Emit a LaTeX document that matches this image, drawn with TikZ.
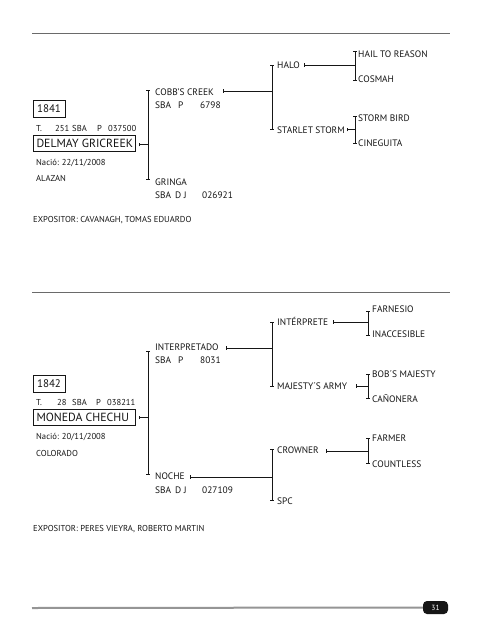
\documentclass[tikz,border=0pt]{standalone}
\usepackage{fontspec}
\setmainfont{PT Sans}
\usetikzlibrary{arrows.meta}
\definecolor{ink}{HTML}{161616}
\definecolor{rulegray}{HTML}{6A6A6A}
\definecolor{rulelight}{HTML}{959595}
\begin{document}
\begin{tikzpicture}[x=1pt,y=-1pt,
  txt/.style={anchor=base west, inner sep=0pt, font=\fontsize{9.4}{12}\selectfont, text=ink},
  sml/.style={anchor=base west, inner sep=0pt, font=\fontsize{8.6}{10}\selectfont, text=ink},
  numbox/.style={draw=ink, line width=0.8pt, inner sep=0pt, minimum width=32pt, minimum height=17pt, font=\fontsize{11}{13}\selectfont, text=ink},
  namebox/.style={draw=ink, line width=0.8pt, inner xsep=3pt, inner ysep=0pt, minimum height=16pt, font=\fontsize{11.8}{14}\selectfont, text=ink},
  vline/.style={draw=ink, line width=0.9pt, {Bar[width=3.5pt,line width=0.7pt]}-{Bar[width=3.5pt,line width=0.7pt]}},
  hline/.style={draw=ink, line width=0.9pt, {Bar[width=3.5pt,line width=0.7pt]}-},
  toprule/.style={draw=rulegray, line width=1.3pt},
  botrule/.style={draw=rulelight, line width=2pt}]
\useasboundingbox (0,0) rectangle (481,640);
\fill[white] (0,0) rectangle (481,640);

% ================= Block 1 =================
\coordinate (r1a) at (32,33.5); \coordinate (r1b) at (450,33.5);
\draw[toprule] (r1a) -- (r1b);

\node[numbox] (num1) at (49,108.5) {1841};
\node[sml] (t1a) at (36,131) {T.};
\node[sml] (t1b) at (55,131) {251};
\node[sml] (t1c) at (72,131) {SBA};
\node[sml] (t1d) at (97,131) {P};
\node[sml] (t1e) at (108,131) {037500};
\node[namebox] (name1) at (84.5,143) {\makebox[96pt][l]{DELMAY GRICREEK}};
\node[sml] (birth1) at (36,165) {Nació: 22/11/2008};
\node[sml] (col1) at (36,181) {ALAZAN};
\node[sml] (exp1) at (33,222) {EXPOSITOR: CAVANAGH, TOMAS EDUARDO};

\coordinate (a1) at (148,90); \coordinate (a2) at (148,180);
\draw[vline] (a1) -- (a2);
\coordinate (d1) at (139,144.5);
\draw[hline] (d1) -- (d1 -| a1);

\node[txt] (sire1) at (155,95) {COBB'S CREEK};
\node[txt] (sire1r) at (155,108.5) {SBA};
\node[txt] (sire1p) at (178,108.5) {P};
\node[txt] (sire1n) at (200,108.5) {6798};
\node[txt] (dam1) at (155,185) {GRINGA};
\node[txt] (dam1r) at (155,198) {SBA};
\node[txt] (dam1d) at (175,198) {D J};
\node[txt] (dam1n) at (202,198) {026921};

\coordinate (s1t) at (223,91);
\coordinate (b1) at (272,65); \coordinate (b2) at (272,130);
\draw[vline] (b1) -- (b2);
\draw[hline] (s1t) -- (s1t -| b1);

\node[txt] (gs1) at (277,68.5) {HALO};
\node[txt] (gd1) at (277,133) {STARLET STORM};

\coordinate (h1t) at (304,65);
\coordinate (c1) at (355,51); \coordinate (c2) at (355,81);
\draw[vline] (c1) -- (c2);
\draw[hline] (h1t) -- (h1t -| c1);
\coordinate (st1t) at (347,129.5);
\coordinate (c3) at (355,115.5); \coordinate (c4) at (355,144);
\draw[vline] (c3) -- (c4);
\draw[hline] (st1t) -- (st1t -| c3);

\node[txt] (g1) at (358,57) {HAIL TO REASON};
\node[txt] (g2) at (358,82) {COSMAH};
\node[txt] (g3) at (358,121) {STORM BIRD};
\node[txt] (g4) at (358,146) {CINEGUITA};

% ================= Block 2 =================
\coordinate (r2a) at (32,292.5); \coordinate (r2b) at (450,292.5);
\draw[toprule] (r2a) -- (r2b);

\node[numbox] (num2) at (49,384) {1842};
\node[sml] (t2a) at (36,405) {T.};
\node[sml] (t2b) at (57,405) {28};
\node[sml] (t2c) at (72,405) {SBA};
\node[sml] (t2d) at (96,405) {P};
\node[sml] (t2e) at (107,405) {038211};
\node[namebox] (name2) at (84.5,417) {\makebox[96pt][l]{MONEDA CHECHU}};
\node[sml] (birth2) at (36,439) {Nació: 20/11/2008};
\node[sml] (col2) at (36,456) {COLORADO};
\node[sml] (exp2) at (33,531) {EXPOSITOR: PERES VIEYRA, ROBERTO MARTIN};

\coordinate (e1) at (148,351); \coordinate (e2) at (148,475);
\draw[vline] (e1) -- (e2);
\coordinate (d2) at (139,417.5);
\draw[hline] (d2) -- (d2 -| e1);

\node[txt] (sire2) at (155,350) {INTERPRETADO};
\node[txt] (sire2r) at (155,363.5) {SBA};
\node[txt] (sire2p) at (178,363.5) {P};
\node[txt] (sire2n) at (200,363.5) {8031};
\node[txt] (dam2) at (155,479) {NOCHE};
\node[txt] (dam2r) at (155,493) {SBA};
\node[txt] (dam2d) at (175,493) {D J};
\node[txt] (dam2n) at (202,493) {027109};

\coordinate (s2t) at (226,348);
\coordinate (f1) at (272,322); \coordinate (f2) at (272,387);
\draw[vline] (f1) -- (f2);
\draw[hline] (s2t) -- (s2t -| f1);
\coordinate (n2t) at (190,477);
\coordinate (f3) at (272,449); \coordinate (f4) at (272,501);
\draw[vline] (f3) -- (f4);
\draw[hline] (n2t) -- (n2t -| f3);

\node[txt] (gs2) at (277,325.5) {INTÉRPRETE};
\node[txt] (gd2) at (277,389.5) {MAJESTY´S ARMY};
\node[txt] (gs3) at (277,453.5) {CROWNER};
\node[txt] (gd3) at (277,504.5) {SPC};

\coordinate (i2t) at (333,322);
\coordinate (k1) at (368,311); \coordinate (k2) at (368,336);
\draw[vline] (k1) -- (k2);
\draw[hline] (i2t) -- (i2t -| k1);
\coordinate (m2t) at (356,386);
\coordinate (k3) at (368,374); \coordinate (k4) at (368,399);
\draw[vline] (k3) -- (k4);
\draw[hline] (m2t) -- (m2t -| k3);
\coordinate (cr2t) at (326,451);
\coordinate (k5) at (368,438); \coordinate (k6) at (368,464);
\draw[vline] (k5) -- (k6);
\draw[hline] (cr2t) -- (cr2t -| k5);

\node[txt] (g5) at (372,312) {FARNESIO};
\node[txt] (g6) at (372,337) {INACCESIBLE};
\node[txt] (g7) at (372,377) {BOB´S MAJESTY};
\node[txt] (g8) at (372,402) {CAÑONERA};
\node[txt] (g9) at (372,441) {FARMER};
\node[txt] (g10) at (372,467) {COUNTLESS};

% ================= Footer =================
\node[fill=ink, text=white, rounded corners=4pt, minimum width=25pt, minimum height=13pt, inner sep=0pt, font=\fontsize{7.5}{9}\selectfont] (page) at (435.5,607.5) {31};
\coordinate (r3a) at (32,608);
\draw[botrule] (r3a) -- (page.west);
\end{tikzpicture}
\end{document}
